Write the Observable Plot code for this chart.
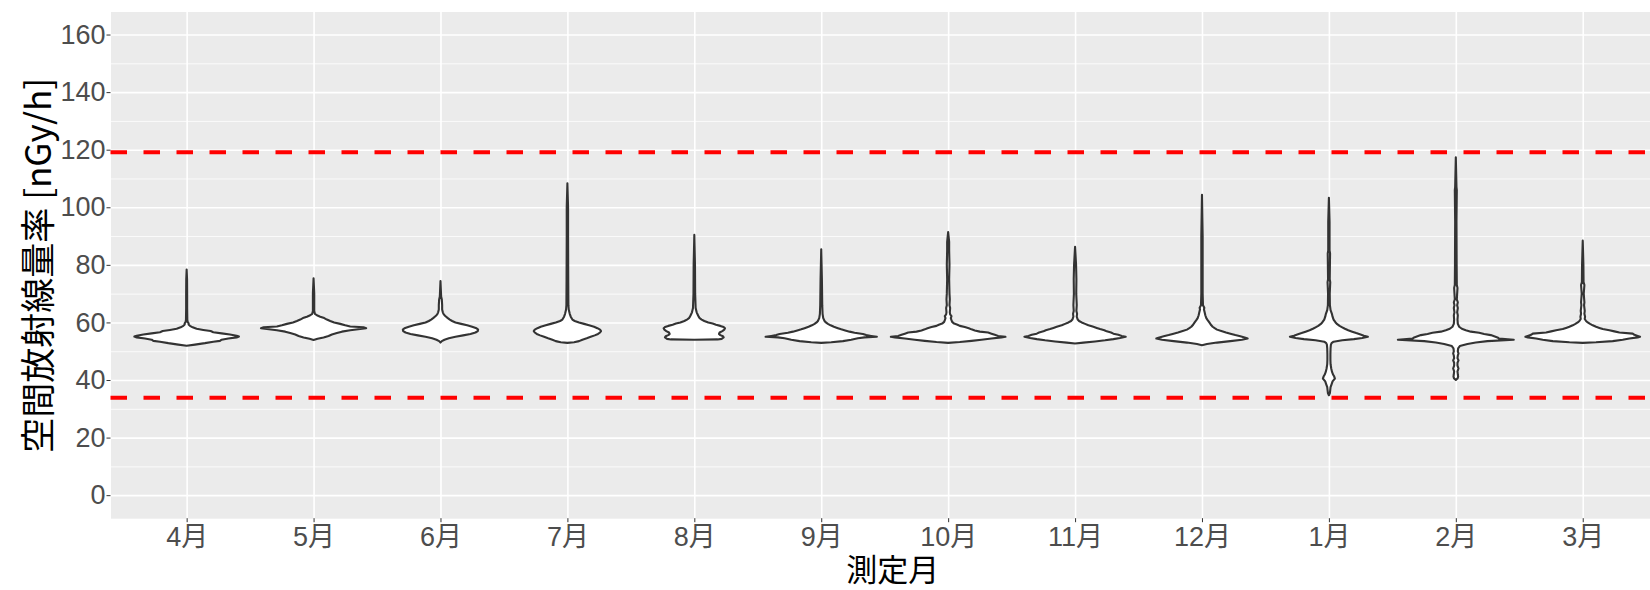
<!DOCTYPE html>
<html><head><meta charset="utf-8">
<script src="https://cdn.jsdelivr.net/npm/d3@7"></script>
<script src="https://cdn.jsdelivr.net/npm/@observablehq/plot@0.6"></script>
<style>html,body{margin:0;padding:0;background:#fff} svg{display:block}</style>
</head><body><div id="chart"></div>
<script>
// categories & tick labels
const months = ["4月","5月","6月","7月","8月","9月","10月","11月","12月","1月","2月","3月"];
const yTicks = [0,20,40,60,80,100,120,140,160];
const yMinor = [10,30,50,70,90,110,130,150];
const refLines = [119.3, 34];
const yTitle = "空間放射線量率 [nGy/h]";
const xTitle = "測定月";

// violin outlines: [dose rate nGy/h, relative half-width]
const vApr = [[51.9,0],[52.3,25],[52.8,55],[53.3,80],[53.6,100],[54.0,105],[54.4,125],[54.8,150],[55.1,157],[55.4,150],[55.8,130],[56.2,105],[56.6,80],[57.0,72],[57.4,50],[57.8,30],[58.3,18],[58.8,10],[59.3,6],[59.7,6],[60.2,3],[61,2],[65,1.5],[70,1.5],[75,1.2],[78.4,0]];
const vMay = [[53.9,0],[54.3,12],[54.8,30],[55.3,45],[55.8,55],[56.3,70],[56.8,85],[57.3,110],[57.7,140],[58.0,158],[58.3,150],[58.6,110],[59.0,95],[59.5,80],[60.0,62],[60.5,50],[61.0,40],[61.5,32],[62.0,20],[62.5,10],[63.0,4],[64,2],[70,2],[75.3,0]];
const vJun = [[53.0,0],[53.5,4],[54.0,12],[54.5,25],[55.0,45],[55.5,68],[56.0,90],[56.5,105],[57.0,112],[57.5,113],[58.0,108],[58.5,95],[59.0,80],[59.5,62],[60.0,45],[60.5,35],[61.0,28],[61.5,22],[62.0,17],[62.5,12],[63.0,9],[63.5,7],[64.5,5],[66,5],[68,4],[69,2],[74.4,0]];
const vJul = [[52.9,0],[53.1,20],[53.5,35],[54.0,45],[54.5,58],[55.0,70],[55.5,82],[56.0,92],[56.5,98],[57.0,101],[57.5,98],[58.0,90],[58.5,80],[59.0,65],[59.5,50],[60.0,35],[60.5,22],[61.0,15],[62,10],[63,7],[64.5,4],[66,3],[75,2.5],[90,2],[100,2],[108.3,0]];
const vAug = [[54.0,0],[54.1,70],[54.3,82],[54.8,88],[55.2,86],[55.6,78],[56.0,74],[56.5,76],[57.0,84],[57.5,90],[58.0,92],[58.4,88],[58.8,78],[59.2,65],[59.6,55],[60.0,42],[60.5,30],[61.0,22],[61.5,16],[62.0,13],[62.5,11],[63.5,7],[65,4],[70,2.5],[80,2],[90.4,0]];
const vSep = [[52.9,0],[53.1,30],[53.5,65],[54.0,90],[54.5,110],[54.8,130],[55.0,167],[55.3,150],[55.6,135],[56.0,125],[56.4,100],[56.8,85],[57.2,72],[57.6,60],[58.0,50],[58.5,38],[59.0,28],[59.5,20],[60.0,14],[60.5,10],[61.5,6],[63,4],[66,3],[75,2],[85.4,0]];
const vOct = [[52.9,0],[53.2,35],[53.6,70],[54.0,100],[54.4,130],[54.8,160],[55.0,172],[55.3,150],[55.7,140],[56.1,130],[56.5,120],[56.8,95],[57.2,80],[57.6,70],[58.0,62],[58.4,50],[58.8,35],[59.2,28],[59.6,18],[60.2,12],[60.8,10],[61.5,8],[62.2,10],[62.8,6],[63.5,5],[65,6],[66,4],[68,5],[70,4],[75,3],[80,4],[85,3],[88,3],[91.4,0]];
const vNov = [[52.7,0],[53.0,25],[53.4,60],[53.8,90],[54.2,115],[54.6,135],[55.0,152],[55.3,140],[55.7,130],[56.1,115],[56.5,108],[56.9,95],[57.3,88],[57.7,75],[58.1,65],[58.5,55],[59.0,40],[59.5,30],[60.0,20],[60.5,12],[61.0,8],[62,5],[63,6],[64,4],[66,5],[70,3.5],[75,4],[80,3],[86.3,0]];
const vDec = [[52.1,0],[52.5,15],[53.0,45],[53.5,85],[54.0,120],[54.4,137],[54.8,128],[55.2,115],[55.6,100],[56.0,88],[56.5,72],[57.0,58],[57.5,45],[58.0,38],[58.5,32],[59.0,28],[59.5,25],[60.0,22],[60.8,17],[61.5,13],[62.5,10],[63.5,8],[64.5,6],[65.1,7],[66,3],[70,2],[80,2],[90,2],[104.3,0]];
const vJan = [[34.7,0],[35.5,3],[36.5,4],[37.5,5],[38.5,8],[39.5,11],[40.5,18],[41.2,16],[42,12],[43,9],[44,7],[45.5,5],[47,4.5],[49,4.5],[51,5],[52.3,6],[52.8,8],[53.3,14],[53.8,40],[54.2,75],[54.6,100],[55.0,117],[55.4,105],[55.8,95],[56.3,82],[56.8,70],[57.3,58],[57.8,48],[58.3,40],[58.8,32],[59.4,25],[60.0,20],[61.0,14],[62.0,11],[63.0,9],[64.3,5],[66,3],[70,2.5],[74,4],[75,2.5],[84,3.5],[85,2],[95,2],[103.3,0]];
const vFeb = [[40.0,0],[40.5,5],[41.2,7],[42,6],[43,5],[44,8],[45,5],[46,5],[46.8,8],[47.6,5],[48.5,6],[49.2,8],[50,6],[51,7],[51.8,12],[52.5,35],[53.0,60],[53.5,95],[54.0,174],[54.4,130],[54.8,125],[55.2,115],[55.6,105],[56.0,85],[56.4,70],[56.8,45],[57.3,30],[57.8,18],[58.5,10],[59.5,6],[61,5],[62.5,6],[63.5,4],[65,6],[66,4],[67,6],[68,3],[72,5],[73,3],[80,2.5],[95,2],[106,3],[107,2],[117.4,0]];
const vMar = [[52.9,0],[53.1,40],[53.5,90],[54.0,120],[54.4,140],[54.8,165],[55.0,172],[55.3,165],[55.7,155],[56.1,150],[56.5,110],[56.9,95],[57.3,80],[57.7,60],[58.1,50],[58.5,40],[59.0,30],[59.5,22],[60.0,15],[60.5,10],[61.2,6],[62,7],[63,5],[64,6],[65,5],[66,4],[67,5],[70,3],[73,5],[74,2.5],[80,2],[88.4,0]];

const outlines = [vApr,vMay,vJun,vJul,vAug,vSep,vOct,vNov,vDec,vJan,vFeb,vMar];
const monthIdx = months.map((m,i) => i + 1);
const widthScale = 1 / 381; // relative half-width -> category units

const rows = outlines.flatMap((pts, i) => pts.map(([v, w]) => ({m: i + 1, v, w: w * widthScale})));

const font = "'Liberation Sans', Arial, 'Noto Sans CJK JP', sans-serif";
const cjk = "'Noto Sans CJK JP', 'Liberation Sans', sans-serif";

const chart = Plot.plot({
  width: 1650,
  height: 590,
  marginLeft: 110.5,
  marginRight: 0,
  marginTop: 11.5,
  marginBottom: 71.8,
  style: {fontFamily: font, background: "white"},
  x: {domain: [0.4, 12.53], label: null},
  y: {domain: [-8, 168], label: null},
  marks: [
    Plot.frame({fill: "#EBEBEB", stroke: null}),
    Plot.ruleY(yMinor, {stroke: "white", strokeWidth: 0.8}),
    Plot.ruleY(yTicks, {stroke: "white", strokeWidth: 1.6}),
    Plot.ruleX(monthIdx, {stroke: "white", strokeWidth: 1.6}),
    Plot.areaX(rows, {
      y: "v",
      x1: d => d.m - d.w,
      x2: d => d.m + d.w,
      z: "m",
      fill: "white",
      stroke: "#333333",
      strokeWidth: 2.1,
      strokeLinejoin: "round"
    }),
    Plot.ruleY(refLines, {stroke: "#FF0000", strokeWidth: 4, strokeDasharray: "16.5,16.5"}),
    Plot.axisY(yTicks, {tickSize: 4, tickPadding: 1.5, fontSize: 27, stroke: "#333333", fill: "#4D4D4D", label: null, fontFamily: font}),
    Plot.axisX(monthIdx, {tickSize: 4, tickPadding: 4, fontSize: 27, stroke: "#333333", fill: "#4D4D4D", label: null, tickFormat: i => months[i - 1], fontFamily: font}),
    Plot.text([yTitle], {frameAnchor: "left", dx: -71.5, rotate: -90, textAnchor: "middle", lineAnchor: "middle", fontSize: 35, fill: "black", fontFamily: cjk}),
    Plot.text([xTitle], {frameAnchor: "bottom", dx: 12, dy: 52.8, textAnchor: "middle", lineAnchor: "middle", fontSize: 31, fill: "black", fontFamily: cjk})
  ]
});
document.getElementById("chart").appendChild(chart);
</script>
</body></html>
